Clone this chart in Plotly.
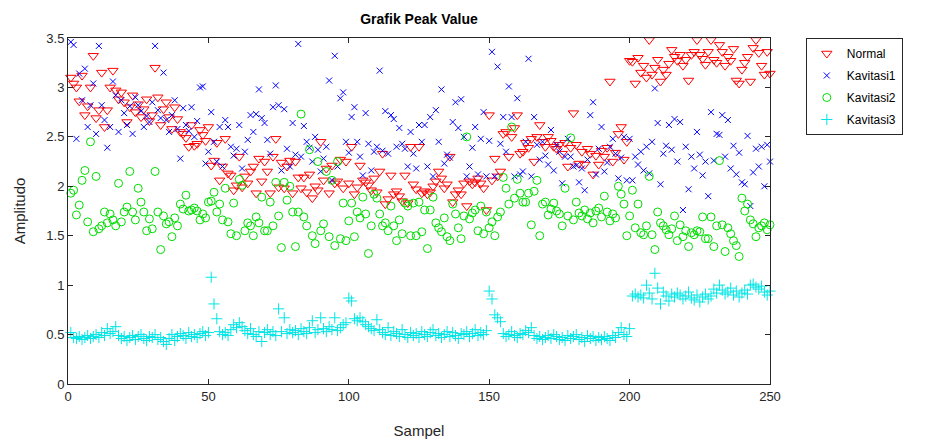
import plotly.graph_objects as go

# Sample index for every series
sampel = list(range(1, 251))

normal = [
    3.10, 3.04, 3.00, 2.86, 3.12, 2.72, 2.81, 3.00, 3.32, 2.69,
    2.77, 3.15, 2.60, 2.77, 3.00, 3.17, 2.97, 2.88, 2.95, 2.85,
    2.65, 2.80, 2.92, 2.75, 2.83, 2.70, 2.78, 2.88, 2.66, 2.72,
    3.20, 2.90, 2.62, 2.78, 2.85, 2.70, 2.58, 2.80, 2.68, 2.55,
    2.53, 2.49, 2.40, 2.62, 2.41, 2.43, 2.57, 2.52, 2.46, 2.60,
    2.21, 2.26, 2.44, 2.06, 2.20, 2.48, 2.13, 2.11, 1.96, 2.01,
    2.30, 1.99, 2.10, 2.03, 2.15, 2.20, 1.93, 2.28, 2.05, 2.25,
    2.15, 1.93, 2.30, 2.48, 1.99, 2.24, 1.98, 2.20, 2.26, 1.93,
    2.25, 2.09, 1.98, 2.09, 1.94, 2.12, 1.88, 2.00, 1.96, 2.45,
    2.06, 2.18, 1.93, 2.21, 2.03, 2.05, 2.27, 1.98, 2.25, 2.03,
    2.40, 1.92, 1.99, 2.21, 2.06, 2.04, 2.01, 1.96, 2.08, 1.94,
    2.15, 2.33, 1.82, 1.87, 2.11, 1.92, 1.95, 1.90, 1.85, 2.11,
    1.83, 2.40, 2.02, 1.97, 2.40, 1.93, 1.95, 1.92, 1.94, 2.00,
    2.05, 2.15, 2.08, 1.98, 2.02, 2.30, 1.84, 1.92, 1.96, 1.92,
    2.03, 1.80, 2.05, 2.02, 2.04, 2.08, 2.03, 1.98, 1.76, 2.72,
    2.06, 2.28, 2.10, 2.15, 2.53, 2.55, 2.30, 2.50, 2.59, 2.72,
    2.33, 2.35, 2.44, 2.39, 2.48, 2.25, 2.50, 2.62, 2.45, 2.40,
    2.50, 2.46, 2.40, 2.38, 2.42, 2.33, 2.44, 2.20, 2.39, 2.74,
    2.42, 2.23, 2.35, 2.22, 2.38, 2.33, 2.12, 2.31, 2.22, 2.36,
    2.30, 2.39, 3.06, 2.25, 2.34, 2.53, 2.60, 2.27, 2.45, 3.27,
    3.26, 3.04, 3.30, 3.15, 3.22, 3.10, 3.48, 3.13, 3.20, 3.28,
    3.06, 3.18, 3.13, 3.24, 3.38, 3.31, 3.27, 3.33, 3.22, 3.28,
    3.07, 3.33, 3.36, 3.48, 3.33, 3.29, 3.23, 3.36, 3.48, 3.28,
    3.25, 3.43, 3.36, 3.22, 3.31, 3.27, 3.39, 3.07, 3.04, 3.18,
    3.25, 3.31, 3.06, 3.40, 3.48, 3.35, 3.22, 3.13, 3.36, 3.14,
]

kavitasi1 = [
    3.46, 3.43, 2.48, 3.14, 2.87, 3.19, 2.60, 2.82, 3.04, 2.53,
    3.42, 2.82, 2.67, 2.39, 2.60, 3.06, 2.92, 2.55, 2.87, 2.74,
    2.62, 2.81, 2.53, 2.90, 2.82, 2.76, 2.60, 2.71, 2.65, 2.85,
    3.42, 2.77, 2.69, 3.15, 2.67, 2.55, 2.72, 2.87, 2.58, 2.28,
    2.79, 2.62, 2.56, 2.80, 2.50, 2.66, 3.00, 3.01, 2.23, 2.35,
    2.75, 2.45, 2.25, 2.60, 2.20, 2.67, 2.60, 2.40, 2.31, 2.38,
    2.62, 2.18, 2.35, 2.47, 2.72, 2.55, 2.73, 2.98, 2.69, 2.64,
    2.47, 2.33, 2.80, 3.02, 2.82, 2.16, 2.78, 2.38, 2.20, 2.64,
    2.32, 3.44, 2.30, 2.61, 2.45, 2.39, 2.25, 2.50, 2.37, 2.15,
    2.28, 2.40, 3.07, 2.06, 3.32, 2.20, 2.89, 2.95, 2.45, 2.34,
    2.70, 2.80, 2.45, 2.30, 2.11, 2.74, 2.43, 2.16, 2.35, 2.40,
    3.17, 2.36, 2.76, 2.33, 2.72, 2.68, 2.40, 2.59, 2.43, 2.38,
    2.20, 2.55, 2.33, 2.18, 2.62, 2.45, 2.62, 2.20, 2.70, 2.10,
    2.77, 2.45, 2.98, 2.23, 2.32, 2.29, 2.65, 2.85, 2.59, 2.88,
    2.50, 2.10, 2.20, 2.39, 2.60, 2.12, 2.48, 2.75, 2.10, 2.46,
    3.36, 2.10, 3.21, 2.43, 2.70, 2.35, 3.01, 2.70, 2.10, 2.89,
    2.12, 2.15, 2.45, 3.29, 2.10, 2.70, 2.42, 2.27, 2.45, 2.31,
    2.22, 2.57, 2.16, 2.42, 2.35, 2.03, 2.30, 2.48, 2.30, 2.20,
    2.21, 2.04, 2.18, 1.96, 2.27, 2.72, 2.85, 2.12, 2.38, 2.60,
    2.15, 2.24, 2.40, 2.48, 2.33, 2.08, 2.29, 2.50, 2.06, 2.48,
    2.06, 2.30, 2.22, 2.35, 2.16, 2.40, 2.13, 2.45, 2.99, 2.64,
    2.02, 2.33, 2.41, 2.62, 2.37, 2.68, 2.25, 2.65, 1.76, 2.40,
    1.97, 2.30, 2.18, 2.55, 2.32, 2.11, 2.25, 1.90, 2.75, 2.26,
    2.53, 2.52, 2.72, 2.30, 2.67, 2.18, 2.41, 2.12, 2.34, 2.04,
    2.02, 2.51, 1.80, 2.14, 2.38, 2.20, 2.40, 2.00, 2.42, 2.25,
]

kavitasi2 = [
    1.93, 1.96, 1.71, 1.81, 2.06, 2.16, 1.64, 2.45, 1.54, 2.10,
    1.57, 1.60, 1.74, 1.63, 1.72, 1.66, 1.60, 2.03, 1.64, 1.74,
    1.79, 2.15, 1.74, 1.66, 1.98, 1.84, 1.74, 1.55, 1.67, 1.57,
    2.15, 1.74, 1.36, 1.70, 1.62, 1.64, 1.49, 1.68, 1.60, 1.82,
    1.77, 1.91, 1.75, 1.76, 1.78, 1.75, 1.66, 1.72, 1.68, 1.84,
    1.85, 1.94, 1.74, 1.82, 1.66, 1.98, 1.64, 1.52, 1.83, 1.50,
    2.07, 2.01, 1.55, 1.63, 1.60, 1.50, 1.69, 1.63, 1.89, 1.55,
    1.55, 1.84, 1.60, 2.04, 1.70, 1.38, 2.04, 1.86, 2.00, 1.74,
    1.39, 1.74, 2.73, 1.69, 1.60, 2.37, 1.50, 1.42, 2.25, 1.55,
    1.62, 2.15, 1.49, 2.06, 1.40, 2.25, 1.47, 1.83, 1.45, 1.65,
    1.83, 1.49, 1.74, 1.68, 1.89, 1.72, 1.32, 1.60, 1.92, 1.88,
    1.72, 1.60, 1.63, 1.55, 1.80, 1.60, 1.45, 1.66, 1.52, 1.83,
    1.80, 1.50, 1.83, 1.50, 1.84, 1.54, 1.76, 1.37, 1.76, 1.89,
    1.63, 1.58, 1.54, 1.68, 1.49, 1.45, 1.82, 1.72, 1.58, 1.47,
    1.70, 2.50, 1.67, 1.73, 1.76, 1.55, 1.80, 1.52, 1.74, 1.58,
    1.64, 1.50, 1.69, 1.74, 2.09, 1.98, 1.82, 2.60, 1.88, 2.07,
    1.93, 1.84, 1.84, 1.93, 1.61, 1.95, 2.06, 1.50, 1.82, 1.84,
    1.71, 1.77, 1.83, 1.75, 1.72, 1.60, 1.98, 1.70, 2.49, 1.66,
    1.84, 1.73, 1.70, 1.76, 1.67, 1.73, 1.63, 1.75, 1.78, 1.69,
    1.90, 1.74, 1.65, 1.72, 1.68, 2.00, 1.92, 1.82, 1.50, 1.70,
    1.96, 1.58, 1.82, 1.53, 1.51, 1.60, 2.10, 1.51, 1.36, 1.74,
    1.63, 1.60, 1.56, 1.51, 1.57, 1.70, 1.45, 1.61, 1.49, 1.55,
    1.39, 1.53, 1.51, 1.55, 1.54, 1.69, 1.47, 1.47, 1.69, 1.39,
    1.60, 2.26, 1.61, 1.34, 1.58, 1.52, 1.45, 1.40, 1.29, 1.88,
    1.75, 1.82, 1.66, 1.62, 1.49, 1.58, 1.60, 1.63, 1.56, 1.61,
]

kavitasi3 = [
    0.52, 0.47, 0.46, 0.48, 0.45, 0.47, 0.49, 0.46, 0.48, 0.50,
    0.47, 0.52, 0.49, 0.56, 0.51, 0.53, 0.58, 0.49, 0.46, 0.48,
    0.44, 0.47, 0.49, 0.45, 0.48, 0.50, 0.46, 0.44, 0.48, 0.47,
    0.50, 0.45, 0.47, 0.43, 0.40, 0.46, 0.50, 0.44, 0.48, 0.51,
    0.49, 0.46, 0.52, 0.48, 0.50, 0.47, 0.51, 0.53, 0.49, 0.52,
    1.08, 0.81, 0.66, 0.53, 0.50, 0.52, 0.49, 0.55, 0.60, 0.57,
    0.62, 0.58, 0.54, 0.51, 0.56, 0.50, 0.48, 0.53, 0.43, 0.52,
    0.55, 0.50, 0.53, 0.49, 0.76, 0.53, 0.67, 0.51, 0.55, 0.52,
    0.54, 0.50, 0.56, 0.53, 0.51, 0.57, 0.64, 0.52, 0.55, 0.67,
    0.56, 0.53, 0.58, 0.55, 0.67, 0.54, 0.57, 0.60, 0.62, 0.87,
    0.84, 0.66, 0.64, 0.67, 0.63, 0.60, 0.58, 0.56, 0.54, 0.65,
    0.55, 0.52, 0.50, 0.57, 0.49, 0.53, 0.51, 0.48, 0.55, 0.50,
    0.47, 0.52, 0.49, 0.51, 0.47, 0.53, 0.50, 0.48, 0.52, 0.55,
    0.49, 0.51, 0.47, 0.50, 0.53, 0.48, 0.52, 0.49, 0.46, 0.51,
    0.50, 0.53, 0.48, 0.51, 0.55, 0.49, 0.52, 0.50, 0.54, 0.94,
    0.86, 0.70, 0.67, 0.63, 0.51, 0.48, 0.50, 0.53, 0.49, 0.47,
    0.51, 0.50, 0.54, 0.52, 0.57, 0.49, 0.46, 0.48, 0.45, 0.47,
    0.49, 0.46, 0.50, 0.48, 0.45, 0.47, 0.44, 0.49, 0.46, 0.48,
    0.50, 0.45, 0.47, 0.43, 0.49, 0.46, 0.48, 0.44, 0.47, 0.45,
    0.48, 0.46, 0.44, 0.49, 0.47, 0.52, 0.57, 0.50, 0.48, 0.56,
    0.89, 0.91, 0.88, 0.90, 0.87, 1.00, 0.92, 0.86, 1.12, 0.97,
    0.81, 0.93, 0.89, 0.84, 0.91, 0.88, 0.92, 0.90, 0.86, 0.89,
    0.93, 0.87, 0.85, 0.90, 0.83, 0.88, 0.91, 0.86, 0.89, 0.96,
    0.92, 1.00, 0.95, 0.91, 0.93, 0.97, 0.90, 0.94, 0.88, 0.92,
    0.95, 0.91, 1.00, 1.01, 0.98, 0.96, 0.99, 0.93, 0.90, 0.94,
]

x_ticks = [0, 50, 100, 150, 200, 250]
y_ticks = [0, 0.5, 1, 1.5, 2, 2.5, 3, 3.5]
y_tick_text = ["0", "0.5", "1", "1.5", "2", "2.5", "3", "3.5"]

FONT = "Liberation Sans, Arial, Helvetica, sans-serif"
AXIS_COLOR = "#262626"

series = [
    ("Normal", normal, "triangle-down-open", "#ff0000", 9),
    ("Kavitasi1", kavitasi1, "x-thin-open", "#0000ff", 6),
    ("Kavitasi2", kavitasi2, "circle-open", "#00dd00", 8),
    ("Kavitasi3", kavitasi3, "cross-thin-open", "#00e5e5", 8),
]

fig = go.Figure()
for name, values, symbol, color, size in series:
    fig.add_trace(go.Scatter(
        x=sampel, y=values, mode="markers", name=name,
        legendgroup=name,
        cliponaxis=False,
        marker=dict(symbol=symbol, size=size, color=color,
                    line=dict(color=color, width=1)),
    ))

axis_common = dict(
    showline=True, linecolor=AXIS_COLOR, linewidth=1, mirror="ticks",
    ticks="inside", ticklen=5, tickcolor=AXIS_COLOR, tickwidth=1,
    showgrid=False, zeroline=False, automargin=False,
    tickfont=dict(family=FONT, size=13, color=AXIS_COLOR),
)

fig.update_xaxes(
    range=[0, 250], tickvals=x_ticks,
    title=dict(text="Sampel", font=dict(family=FONT, size=15, color=AXIS_COLOR), standoff=22),
    **axis_common,
)
fig.update_yaxes(
    range=[0, 3.5], tickvals=y_ticks, ticktext=y_tick_text,
    title=dict(text="Amplitudo", font=dict(family=FONT, size=15, color=AXIS_COLOR), standoff=17),
    **axis_common,
)

fig.update_layout(
    width=928, height=443,
    margin=dict(l=68, r=158, t=38, b=59),
    paper_bgcolor="white", plot_bgcolor="white",
    title=dict(text="<b>Grafik Peak Value</b>", x=0.5, xref="paper",
               y=1 - 19 / 443, yanchor="middle",
               font=dict(family=FONT, size=14, color="black")),
    legend=dict(x=1.051, y=1.0, xanchor="left", yanchor="top",
                bordercolor=AXIS_COLOR, borderwidth=1, bgcolor="white",
                tracegroupgap=3,
                font=dict(family=FONT, size=12, color="black")),
    showlegend=True,
)

fig.write_html("out.html")
